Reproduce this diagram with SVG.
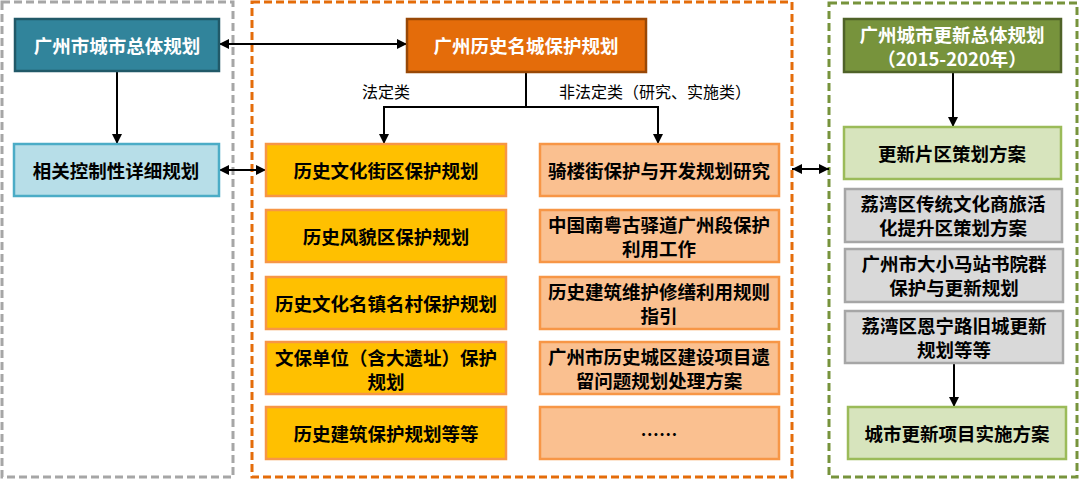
<svg xmlns="http://www.w3.org/2000/svg" width="1080" height="479" viewBox="0 0 1080 479">
<defs>
<style>
.t{font-family:"Noto Sans CJK SC","Noto Sans CJK TC",sans-serif;font-weight:bold;font-size:18.5px;text-anchor:middle;dominant-baseline:central;fill:#000}
.w{fill:#fff}
.lbl{font-family:"Noto Sans CJK SC",sans-serif;font-size:16px;text-anchor:middle;dominant-baseline:central;fill:#000}
.frame{fill:none;stroke-width:3;stroke-dasharray:8 4}
.teal{fill:#31849B;stroke:#215968;stroke-width:2.5}
.lblue{fill:#B7DEE8;stroke:#4BACC6;stroke-width:2.5}
.otitle{fill:#E46C0A;stroke:#984807;stroke-width:2.5}
.yel{fill:#FFC000;stroke:#F79646;stroke-width:2.5}
.lor{fill:#FAC090;stroke:#F79646;stroke-width:2.5}
.gtitle{fill:#77933C;stroke:#4F6228;stroke-width:2.5}
.lgreen{fill:#D7E4BD;stroke:#9BBB59;stroke-width:2.5}
.gray{fill:#D9D9D9;stroke:#A6A6A6;stroke-width:2.5}
.c{fill:none;stroke:#000;stroke-width:2}
</style>
<marker id="ah" viewBox="0 0 10 10" refX="10" refY="5" markerWidth="10" markerHeight="10" markerUnits="userSpaceOnUse" orient="auto-start-reverse">
<path d="M0,0 L10,5 L0,10 z" fill="#000"/>
</marker>
</defs>
<rect width="1080" height="479" fill="#fff"/>
<g id="frames">
<rect class="frame" x="2" y="2" width="231" height="475" stroke="#A6A6A6"/>
<rect class="frame" x="252" y="2" width="540" height="475" stroke="#E46C0A"/>
<rect class="frame" x="829" y="3" width="248" height="474" stroke="#77933C"/>
</g>
<g id="connectors">
<line class="c" x1="219" y1="44" x2="407" y2="44" marker-start="url(#ah)" marker-end="url(#ah)"/>
<line class="c" x1="117" y1="71" x2="117" y2="144" marker-end="url(#ah)"/>
<line class="c" x1="219" y1="170" x2="266" y2="170" marker-start="url(#ah)" marker-end="url(#ah)"/>
<polyline class="c" points="526,72 526,107"/>
<polyline class="c" points="384,144 384,107 658,107 658,144" marker-start="url(#ah)" marker-end="url(#ah)"/>
<line class="c" x1="792" y1="169" x2="829" y2="169" marker-start="url(#ah)" marker-end="url(#ah)"/>
<line class="c" x1="953" y1="72" x2="953" y2="127" marker-end="url(#ah)"/>
<line class="c" x1="954" y1="363" x2="954" y2="407" marker-end="url(#ah)"/>
<text class="lbl" x="386" y="91">法定类</text>
<text class="lbl" x="655" y="91">非法定类（研究、实施类）</text>
</g>
<g id="n-zongti"><rect class="teal" x="15" y="19" width="204" height="52"/><text class="t w" x="117" y="45">广州市城市总体规划</text></g>
<g id="n-kongxiang"><rect class="lblue" x="14" y="144" width="205" height="52"/><text class="t" x="116" y="170">相关控制性详细规划</text></g>
<g id="n-mingcheng"><rect class="otitle" x="407" y="19" width="239" height="53"/><text class="t w" x="526" y="45">广州历史名城保护规划</text></g>
<g id="n-l1"><rect class="yel" x="266" y="144" width="240" height="52"/><text class="t" x="386" y="170">历史文化街区保护规划</text></g>
<g id="n-l2"><rect class="yel" x="266" y="210" width="240" height="52"/><text class="t" x="386" y="236">历史风貌区保护规划</text></g>
<g id="n-l3"><rect class="yel" x="266" y="277" width="240" height="52"/><text class="t" x="386" y="303">历史文化名镇名村保护规划</text></g>
<g id="n-l4"><rect class="yel" x="266" y="342" width="240" height="52"/><text class="t" x="386" y="357">文保单位（含大遗址）保护</text><text class="t" x="386" y="381">规划</text></g>
<g id="n-l5"><rect class="yel" x="266" y="407" width="240" height="52"/><text class="t" x="386" y="433">历史建筑保护规划等等</text></g>
<g id="n-r1"><rect class="lor" x="540" y="144" width="239" height="52"/><text class="t" x="659" y="170">骑楼街保护与开发规划研究</text></g>
<g id="n-r2"><rect class="lor" x="540" y="210" width="239" height="52"/><text class="t" x="659" y="224">中国南粤古驿道广州段保护</text><text class="t" x="659" y="248">利用工作</text></g>
<g id="n-r3"><rect class="lor" x="540" y="277" width="239" height="52"/><text class="t" x="659" y="291">历史建筑维护修缮利用规则</text><text class="t" x="659" y="315">指引</text></g>
<g id="n-r4"><rect class="lor" x="540" y="342" width="239" height="52"/><text class="t" x="659" y="356">广州市历史城区建设项目遗</text><text class="t" x="659" y="380">留问题规划处理方案</text></g>
<g id="n-r5"><rect class="lor" x="540" y="407" width="239" height="52"/><text class="t" x="659" y="433">……</text></g>
<g id="n-gengxin"><rect class="gtitle" x="844" y="19" width="217" height="53"/><text class="t w" x="952" y="33.5">广州城市更新总体规划</text><text class="t w" x="952" y="57.5">（2015-2020年）</text></g>
<g id="n-pianqu"><rect class="lgreen" x="844" y="127" width="217" height="52"/><text class="t" x="952" y="153">更新片区策划方案</text></g>
<g id="n-g1"><rect class="gray" x="845" y="189" width="217" height="53"/><text class="t" x="953" y="203">荔湾区传统文化商旅活</text><text class="t" x="953" y="227">化提升区策划方案</text></g>
<g id="n-g2"><rect class="gray" x="845" y="249" width="218" height="53"/><text class="t" x="954" y="263">广州市大小马站书院群</text><text class="t" x="954" y="287">保护与更新规划</text></g>
<g id="n-g3"><rect class="gray" x="845" y="311" width="218" height="52"/><text class="t" x="954" y="325">荔湾区恩宁路旧城更新</text><text class="t" x="954" y="349">规划等等</text></g>
<g id="n-shishi"><rect class="lgreen" x="848" y="407" width="218" height="52"/><text class="t" x="957" y="433">城市更新项目实施方案</text></g>
</svg>
